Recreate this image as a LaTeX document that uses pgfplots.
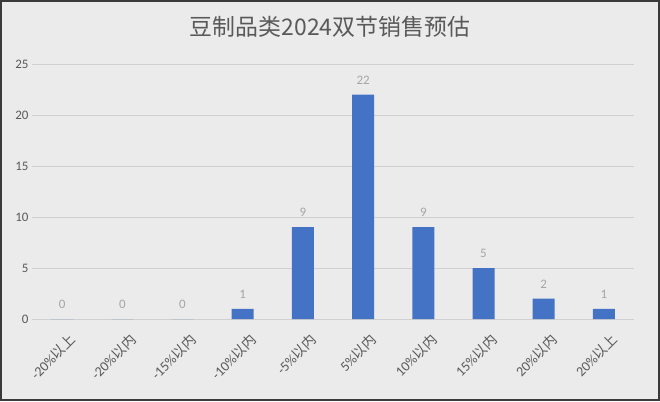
\documentclass[border=0pt]{standalone}
\usepackage{pgfplots}
\pgfplotsset{compat=1.18}
\usepackage{fontspec}
\setmainfont{Carlito}
\newfontfamily\cjk{Noto Sans CJK SC}
\definecolor{bgcol}{HTML}{EBEBEB}
\definecolor{framecol}{HTML}{3A3A3A}
\definecolor{barblue}{HTML}{4472C4}
\definecolor{gridcol}{HTML}{D0D0D0}
\definecolor{tickcol}{HTML}{595959}
\definecolor{labcol}{HTML}{A6A6A6}
\begin{document}
\begin{tikzpicture}[x=1bp,y=1bp]
\fill[bgcol] (0,0) rectangle (660,401);
\draw[framecol, line width=2bp] (1,1) rectangle (659,400);
\node[text=tickcol, font=\cjk\fontsize{23}{27}\selectfont] at (330,374) {豆制品类2024双节销售预估};
\begin{axis}[
    at={(32bp,82bp)}, anchor=south west,
    scale only axis,
    width=602bp, height=255bp,
    xmin=-0.5, xmax=9.5,
    ymin=0, ymax=25,
    ytick={0,5,...,25},
    xtick={0,...,9},
    xticklabels={-20\%{\cjk 以上}, -20\%{\cjk 以内}, -15\%{\cjk 以内}, -10\%{\cjk 以内}, -5\%{\cjk 以内},
                 5\%{\cjk 以内}, 10\%{\cjk 以内}, 15\%{\cjk 以内}, 20\%{\cjk 以内}, 20\%{\cjk 以上}},
    xticklabel style={xshift=11bp, yshift=-18bp, rotate=45, anchor=east, text=tickcol, font=\fontsize{14}{16}\selectfont, inner sep=0pt},
    yticklabel style={text=tickcol, font=\fontsize{13}{15}\selectfont},
    /pgf/number format/assume math mode=true,
    major tick length=0pt,
    axis line style={draw=none},
    ymajorgrids=true,
    grid style={gridcol, line width=0.8bp},
    ybar,
    bar width=22bp,
    nodes near coords,
    every node near coord/.append style={text=labcol, font=\fontsize{13}{15}\selectfont, yshift=7bp},
]
\addplot[fill=barblue, draw=none] coordinates {
    (0,0) (1,0) (2,0) (3,1) (4,9) (5,22) (6,9) (7,5) (8,2) (9,1)
};
\end{axis}
\end{tikzpicture}
\end{document}
